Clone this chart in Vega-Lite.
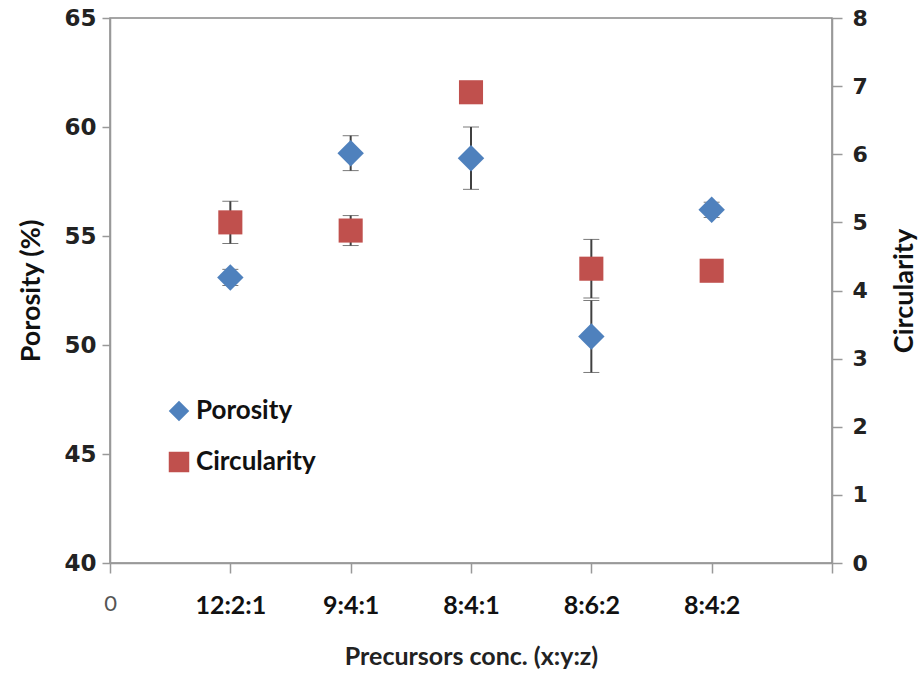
{
  "$schema": "https://vega.github.io/schema/vega-lite/v6.json",
  "width": 722,
  "height": 545,
  "autosize": "none",
  "padding": {"left": 110, "top": 18, "right": 89, "bottom": 115},
  "background": "white",
  "config": {
    "view": {"stroke": "#888888", "strokeWidth": 1.5},
    "axis": {"grid": false, "domainColor": "#999999", "domainWidth": 1.5, "tickColor": "#999999", "tickWidth": 1.5}
  },
  "datasets": {
    "por": [
      {"cat": "12:2:1", "series": "Porosity", "value": 53.1, "err": 0.37},
      {"cat": "9:4:1", "series": "Porosity", "value": 58.8, "err": 0.8},
      {"cat": "8:4:1", "series": "Porosity", "value": 58.57, "err": 1.43},
      {"cat": "8:6:2", "series": "Porosity", "value": 50.39, "err": 1.65},
      {"cat": "8:4:2", "series": "Porosity", "value": 56.2, "err": 0.35}
    ],
    "circ": [
      {"cat": "12:2:1", "series": "Circularity", "value": 5.0, "err": 0.31},
      {"cat": "9:4:1", "series": "Circularity", "value": 4.88, "err": 0.22},
      {"cat": "8:4:1", "series": "Circularity", "value": 6.91, "err": 0.0},
      {"cat": "8:6:2", "series": "Circularity", "value": 4.32, "err": 0.43},
      {"cat": "8:4:2", "series": "Circularity", "value": 4.29, "err": 0.1}
    ]
  },
  "encoding": {
    "x": {
      "field": "cat",
      "type": "nominal",
      "scale": {"type": "point", "domain": ["0", "12:2:1", "9:4:1", "8:4:1", "8:6:2", "8:4:2", " "], "padding": 0},
      "axis": {
        "title": "Precursors conc. (x:y:z)",
        "titleFont": "Lato",
        "titleFontSize": 25,
        "titleFontWeight": "bold",
        "titleColor": "#222222",
        "titlePadding": 26,
        "labelAngle": 0,
        "labelFont": "Lato",
        "labelFontSize": {"condition": {"test": "datum.value == '0'", "value": 22}, "value": 25},
        "labelFontWeight": {"condition": {"test": "datum.value == '0'", "value": "normal"}, "value": "bold"},
        "labelColor": {"condition": {"test": "datum.value == '0'", "value": "#555555"}, "value": "#111111"},
        "labelPadding": 20,
        "tickSize": 10,
        "domain": true
      }
    }
  },
  "layer": [
    {
      "layer": [
        {
          "data": {"name": "por"},
          "mark": {"type": "errorbar", "ticks": {"size": 16, "color": "#404040", "strokeWidth": 2}, "rule": {"color": "#404040", "strokeWidth": 2}},
          "encoding": {
            "y": {"field": "value", "type": "quantitative", "title": "Porosity (%)", "scale": {"domain": [40, 65], "nice": false, "zero": false}},
            "yError": {"field": "err"}
          }
        },
        {
          "data": {"name": "por"},
          "mark": {"type": "point", "filled": true, "size": 700, "opacity": 1},
          "encoding": {
            "y": {
              "field": "value",
              "type": "quantitative",
              "title": "Porosity (%)",
              "scale": {"domain": [40, 65], "nice": false, "zero": false},
              "axis": {
                "orient": "left",
                "titleFont": "Lato",
                "titleFontSize": 27,
                "titleFontWeight": "bold",
                "titleColor": "#111111",
                "titlePadding": 18,
                "values": [40, 45, 50, 55, 60, 65],
                "labelFont": "DejaVu Sans",
                "labelFontSize": 23,
                "labelFontWeight": "bold",
                "labelColor": "#222222",
                "labelPadding": 6,
                "tickSize": 8
              }
            },
            "color": {"field": "series", "type": "nominal", "scale": {"domain": ["Porosity", "Circularity"], "range": ["#4F81BD", "#C0504D"]}, "legend": {"orient": "none", "legendX": 56, "legendY": 380, "title": null, "symbolSize": 420, "symbolOpacity": 1, "labelFont": "Lato", "labelFontSize": 26, "labelFontWeight": "bold", "labelColor": "#111111", "labelOffset": 4, "rowPadding": 25, "padding": 0}},
            "shape": {"field": "series", "type": "nominal", "scale": {"domain": ["Porosity", "Circularity"], "range": ["diamond", "square"]}}
          }
        }
      ]
    },
    {
      "layer": [
        {
          "data": {"name": "circ"},
          "mark": {"type": "errorbar", "ticks": {"size": 16, "color": "#404040", "strokeWidth": 2}, "rule": {"color": "#404040", "strokeWidth": 2}},
          "encoding": {
            "y": {"field": "value", "type": "quantitative", "title": "Circularity", "scale": {"domain": [0, 8], "nice": false}},
            "yError": {"field": "err"}
          }
        },
        {
          "data": {"name": "circ"},
          "mark": {"type": "point", "filled": true, "size": 580, "opacity": 1},
          "encoding": {
            "y": {
              "field": "value",
              "type": "quantitative",
              "title": "Circularity",
              "scale": {"domain": [0, 8], "nice": false},
              "axis": {
                "orient": "right",
                "titleFont": "Lato",
                "titleFontSize": 27,
                "titleFontWeight": "bold",
                "titleColor": "#111111",
                "titleAngle": 270,
                "titleBaseline": "bottom",
                "titlePadding": 51,
                "values": [0, 1, 2, 3, 4, 5, 6, 7, 8],
                "format": "d",
                "labelFont": "DejaVu Sans",
                "labelFontSize": 22,
                "labelFontWeight": "bold",
                "labelColor": "#222222",
                "labelPadding": 10,
                "tickSize": 10
              }
            },
            "color": {"field": "series", "type": "nominal"},
            "shape": {"field": "series", "type": "nominal"}
          }
        }
      ]
    }
  ],
  "resolve": {"scale": {"y": "independent"}}
}
